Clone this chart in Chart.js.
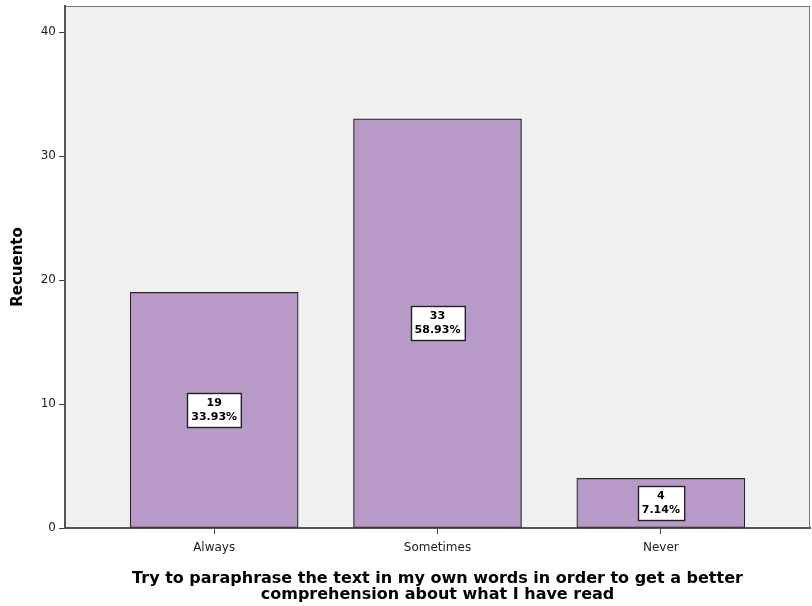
<!DOCTYPE html>
<html>
<head>
<meta charset="utf-8">
<script src="https://cdn.jsdelivr.net/npm/chart.js@4/dist/chart.umd.min.js"></script>
<style>
  html, body { margin: 0; padding: 0; background: #ffffff; }
  #wrap { width: 812px; height: 606px; }
</style>
</head>
<body>
<div id="wrap"><canvas id="c" width="812" height="606"></canvas></div>
<script>
// Response categories and counts
const categories = ['Always', 'Sometimes', 'Never'];
const counts = [19, 33, 4];
const yTicks = [0, 10, 20, 30, 40];
const xTitle = ['Try to paraphrase the text in my own words in order to get a better',
                'comprehension about what I have read'];
const yTitle = 'Recuento';

const total = counts.reduce((a, b) => a + b, 0);
const points = counts.map((v, i) => ({ x: i + 1, y: v }));

// Grey plot background with a thin frame
const plotFrame = {
  id: 'plotFrame',
  beforeDraw(chart) {
    const { ctx, chartArea: a } = chart;
    ctx.save();
    ctx.fillStyle = '#f0f0f0';
    ctx.fillRect(a.left, a.top, a.right - a.left, a.bottom - a.top);
    ctx.strokeStyle = '#7a7a7a';
    ctx.lineWidth = 1;
    ctx.strokeRect(a.left + 0.5, a.top + 0.5, a.right - a.left - 1, a.bottom - a.top);
    ctx.restore();
  }
};

// Boxed count / percent labels in the middle of each bar
const barLabels = {
  id: 'barLabels',
  afterDatasetsDraw(chart) {
    const { ctx } = chart;
    const xs = chart.scales.x, ys = chart.scales.y;
    ctx.save();
    ctx.font = 'bold 11px "DejaVu Sans", sans-serif';
    ctx.textAlign = 'center';
    ctx.textBaseline = 'middle';
    counts.forEach((v, i) => {
      const cx = xs.getPixelForValue(i + 1);
      const cy = ys.getPixelForValue(v / 2);
      const l1 = String(v);
      const l2 = (v / total * 100).toFixed(2) + '%';
      const w = Math.max(ctx.measureText(l1).width, ctx.measureText(l2).width) + 8;
      const h = 34;
      const bx = Math.round(cx - w / 2) + 0.5, by = Math.round(cy - h / 2) + 0.5;
      ctx.fillStyle = '#ffffff';
      ctx.fillRect(bx, by, w, h);
      ctx.strokeStyle = '#222222';
      ctx.lineWidth = 1.4;
      ctx.strokeRect(bx, by, w, h);
      ctx.fillStyle = '#000000';
      ctx.fillText(l1, cx, cy - 7);
      ctx.fillText(l2, cx, cy + 7);
    });
    ctx.restore();
  }
};

new Chart(document.getElementById('c'), {
  type: 'bar',
  data: {
    datasets: [{
      data: points,
      backgroundColor: '#b89ac8',
      borderColor: '#262626',
      borderWidth: 1.2,
      borderSkipped: false,
      barThickness: 168
    }]
  },
  options: {
    responsive: false,
    animation: false,
    events: [],
    layout: { padding: { top: 6, right: 2, left: 0, bottom: 0 } },
    plugins: {
      legend: { display: false },
      tooltip: { enabled: false }
    },
    scales: {
      x: {
        type: 'linear',
        offset: false,
        min: 0.332,
        max: 3.668,
        afterBuildTicks(scale) {
          scale.ticks = categories.map((c, i) => ({ value: i + 1 }));
        },
        afterFit(scale) { scale.height = 78; },
        grid: { display: true, offset: false, drawOnChartArea: false, tickLength: 6, color: '#444', lineWidth: 1 },
        border: { display: true, color: '#555', width: 2 },
        ticks: {
          autoSkip: false,
          maxRotation: 0,
          padding: 7,
          color: '#222',
          font: { family: '"DejaVu Sans", sans-serif', size: 12 },
          callback: (v) => categories[v - 1] ?? ''
        },
        title: {
          display: true,
          text: xTitle,
          color: '#000',
          font: { family: '"DejaVu Sans", sans-serif', size: 16, weight: 'bold', lineHeight: 1.0 },
          padding: { top: 4, bottom: 3 }
        }
      },
      y: {
        min: 0,
        max: 42.1,
        afterBuildTicks(scale) {
          scale.ticks = yTicks.map(v => ({ value: v }));
        },
        afterFit(scale) {
          scale.width = 65;
          scale.paddingTop = 0;
          scale.paddingBottom = 0;
        },
        grid: { display: true, drawOnChartArea: false, tickLength: 6, color: '#444', lineWidth: 1 },
        border: { display: true, color: '#555', width: 2 },
        ticks: {
          padding: 3,
          color: '#222',
          font: { family: '"DejaVu Sans", sans-serif', size: 12 }
        },
        title: {
          display: true,
          text: yTitle,
          color: '#000',
          font: { family: '"DejaVu Sans", sans-serif', size: 15, weight: 'bold' },
          padding: { top: 9, bottom: 0 }
        }
      }
    }
  },
  plugins: [plotFrame, barLabels]
});
</script>
</body>
</html>
